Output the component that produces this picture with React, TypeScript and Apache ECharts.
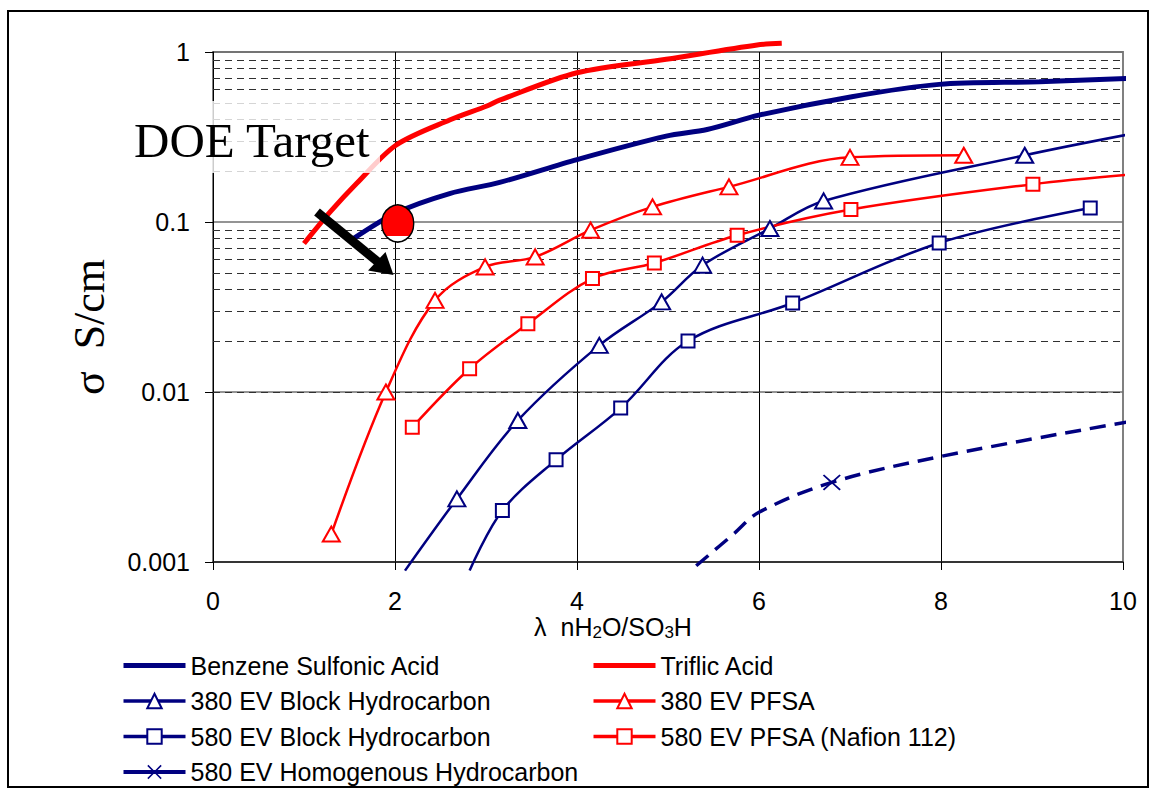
import React, { useEffect, useRef } from 'react';
import * as echarts from 'echarts';

const SANS = '"Liberation Sans", Arial, Helvetica, sans-serif';
const SERIF = '"Liberation Serif", "Times New Roman", Times, serif';
const NAVY = '#000080';
const RED = '#ff0000';

const seriesNames = [
  'Benzene Sulfonic Acid',
  'Triflic Acid',
  '380 EV Block Hydrocarbon',
  '380 EV PFSA',
  '580 EV Block Hydrocarbon',
  '580 EV PFSA (Nafion 112)',
  '580 EV Homogenous Hydrocarbon',
];

const xTickStep = 2;
const yTickLabels = ['0.001', '0.01', '0.1', '1'];
const minorGridValues = [
  0.002, 0.003, 0.004, 0.005, 0.006, 0.007, 0.008, 0.009,
  0.02, 0.03, 0.04, 0.05, 0.06, 0.07, 0.08, 0.09,
  0.2, 0.3, 0.4, 0.5, 0.6, 0.7, 0.8, 0.9,
];

// Benzene Sulfonic Acid
const benzeneX = [1.53, 2.01, 2.6, 3.15, 4.0, 4.98, 5.43, 6.0, 7.02, 7.98, 9.08, 10.1];
const benzeneY = [0.079, 0.113, 0.147, 0.171, 0.233, 0.32, 0.35, 0.425, 0.546, 0.645, 0.668, 0.7];

// Triflic Acid
const triflicX = [1.0, 1.29, 1.58, 2.01, 2.6, 3.01, 3.15, 4.0, 4.98, 5.98, 6.25];
const triflicY = [0.0747, 0.115, 0.169, 0.283, 0.398, 0.481, 0.521, 0.755, 0.906, 1.1, 1.125];

// 380 EV Block Hydrocarbon
const block380X = [2.11, 2.68, 3.35, 4.245, 4.93, 5.38, 6.12, 6.71, 8.92, 10.12];
const block380Y = [0.00089, 0.00235, 0.0068, 0.0188, 0.0339, 0.0557, 0.0916, 0.133, 0.247, 0.332];
const block380Marked = [false, true, true, true, true, true, true, true, true, false];

// 380 EV PFSA
const pfsa380X = [1.3, 1.9, 2.44, 2.99, 3.54, 4.15, 4.83, 5.67, 7.0, 8.25];
const pfsa380Y = [0.00146, 0.01, 0.0346, 0.0544, 0.0623, 0.0895, 0.1227, 0.161, 0.24, 0.247];
const pfsa380Marked = [true, true, true, true, true, true, true, true, true, true];

// 580 EV Block Hydrocarbon
const block580X = [2.82, 3.18, 3.77, 4.48, 5.22, 6.37, 7.98, 9.64];
const block580Y = [0.00089, 0.00201, 0.00399, 0.00804, 0.01995, 0.0334, 0.0753, 0.121];
const block580Marked = [false, true, true, true, true, true, true, true];

// 580 EV PFSA (Nafion 112)
const pfsa580X = [2.19, 2.82, 3.46, 4.17, 4.85, 5.76, 7.01, 9.01, 10.12];
const pfsa580Y = [0.0062, 0.0137, 0.0252, 0.0465, 0.0574, 0.0836, 0.1185, 0.167, 0.191];
const pfsa580Marked = [true, true, true, true, true, true, true, true, false];

// 580 EV Homogenous Hydrocarbon
const homoX = [5.31, 5.72, 6.0, 6.8, 8.0, 10.1];
const homoY = [0.00095, 0.00146, 0.00196, 0.00294, 0.00418, 0.00674];
const homoMarked = [false, false, false, true, false, false];

// DOE target point
const doeTarget = [2.03, 0.098];

const X_SYMBOL =
  'path://M0,1.5L1.5,0L10,8.5L18.5,0L20,1.5L11.5,10L20,18.5L18.5,20L10,11.5L1.5,20L0,18.5L8.5,10Z';

function pts(xs: number[], ys: number[]) {
  return xs.map((x, i) => [x, ys[i]]);
}

function markedPts(xs: number[], ys: number[], marked: boolean[]) {
  return xs.map((x, i) =>
    marked[i] ? [x, ys[i]] : { value: [x, ys[i]], symbol: 'none' }
  );
}

export default function App() {
  const ref = useRef<HTMLDivElement>(null);

  useEffect(() => {
    document.body.style.margin = '0';
    if (!ref.current) return;
    const chart = echarts.init(ref.current, undefined, { renderer: 'svg' });

    const legendText = {
      fontSize: 25,
      fontFamily: SANS,
      color: '#000',
      lineHeight: 24,
    };

    const option: any = {
      animation: false,
      backgroundColor: '#fff',
      grid: {
        left: 213,
        top: 52,
        width: 910,
        height: 510,
        show: true,
        borderColor: '#808080',
        borderWidth: 2,
        backgroundColor: 'transparent',
      },
      xAxis: {
        type: 'value',
        min: 0,
        max: 10,
        interval: xTickStep,
        axisLine: { show: true, onZero: false, lineStyle: { color: '#202020', width: 1.5 } },
        axisTick: { show: true, inside: false, length: 8, lineStyle: { color: '#000', width: 1 } },
        axisLabel: { fontSize: 25, fontFamily: SANS, color: '#000', margin: 26 },
        splitLine: {
          show: true,
          lineStyle: { color: ['#000', '#000', '#000', '#000', '#000', '#808080'], width: 1 },
        },
      },
      yAxis: {
        type: 'log',
        logBase: 10,
        min: 0.001,
        max: 1,
        axisLine: { show: true, onZero: false, lineStyle: { color: '#000', width: 1 } },
        axisTick: { show: true, inside: false, length: 8, lineStyle: { color: '#000', width: 1 } },
        axisLabel: {
          fontSize: 25,
          fontFamily: SANS,
          color: '#000',
          margin: 23,
          formatter: (v: number) => {
            const idx = Math.round(Math.log10(v)) + 3;
            return yTickLabels[idx] ?? String(v);
          },
        },
        splitLine: { show: true, lineStyle: { color: '#707070', width: 1.5 } },
      },
      legend: [
        {
          orient: 'vertical',
          left: 121,
          top: 653,
          padding: 0,
          itemWidth: 62,
          itemHeight: 18,
          itemGap: 10.5,
          selectedMode: false,
          textStyle: legendText,
          data: [
            { name: seriesNames[0], itemStyle: { opacity: 0 }, lineStyle: { width: 5 } },
            { name: seriesNames[2], lineStyle: { width: 3.5 } },
            { name: seriesNames[4], lineStyle: { width: 3.5 } },
            { name: seriesNames[6], lineStyle: { width: 4, type: 'solid' } },
          ],
        },
        {
          orient: 'vertical',
          left: 591,
          top: 653,
          padding: 0,
          itemWidth: 62,
          itemHeight: 18,
          itemGap: 10.5,
          selectedMode: false,
          textStyle: legendText,
          data: [
            { name: seriesNames[1], itemStyle: { opacity: 0 }, lineStyle: { width: 5 } },
            { name: seriesNames[3], lineStyle: { width: 3.5 } },
            { name: seriesNames[5], lineStyle: { width: 3.5 } },
          ],
        },
      ],
      series: [
        {
          name: '__minorGrid',
          type: 'line',
          data: [],
          silent: true,
          markLine: {
            silent: true,
            z: 1,
            symbol: ['none', 'none'],
            label: { show: false },
            emphasis: { disabled: true },
            lineStyle: { color: '#303030', width: 1, type: [7, 5] },
            data: minorGridValues.map((v) => ({ yAxis: v })),
          },
        },
        {
          name: seriesNames[0],
          type: 'line',
          data: pts(benzeneX, benzeneY),
          symbol: 'none',
          smooth: 0.3,
          clip: false,
          z: 3,
          itemStyle: { color: NAVY },
          lineStyle: { color: NAVY, width: 5 },
        },
        {
          name: seriesNames[1],
          type: 'line',
          data: pts(triflicX, triflicY),
          symbol: 'none',
          smooth: 0.3,
          clip: false,
          z: 3,
          itemStyle: { color: RED },
          lineStyle: { color: RED, width: 5 },
        },
        {
          name: seriesNames[2],
          type: 'line',
          data: markedPts(block380X, block380Y, block380Marked),
          symbol: 'emptyTriangle',
          symbolSize: [17, 15],
          showAllSymbol: true,
          smooth: 0.35,
          clip: false,
          z: 4,
          itemStyle: { color: NAVY, borderWidth: 1.5 },
          lineStyle: { color: NAVY, width: 2.5 },
        },
        {
          name: seriesNames[3],
          type: 'line',
          data: markedPts(pfsa380X, pfsa380Y, pfsa380Marked),
          symbol: 'emptyTriangle',
          symbolSize: [17, 15],
          showAllSymbol: true,
          smooth: 0.35,
          clip: false,
          z: 4,
          itemStyle: { color: RED, borderWidth: 1.5 },
          lineStyle: { color: RED, width: 2.5 },
        },
        {
          name: seriesNames[4],
          type: 'line',
          data: markedPts(block580X, block580Y, block580Marked),
          symbol: 'emptyRect',
          symbolSize: 13,
          showAllSymbol: true,
          smooth: 0.35,
          clip: false,
          z: 4,
          itemStyle: { color: NAVY, borderWidth: 1.5 },
          lineStyle: { color: NAVY, width: 2.5 },
        },
        {
          name: seriesNames[5],
          type: 'line',
          data: markedPts(pfsa580X, pfsa580Y, pfsa580Marked),
          symbol: 'emptyRect',
          symbolSize: 13,
          showAllSymbol: true,
          smooth: 0.35,
          clip: false,
          z: 4,
          itemStyle: { color: RED, borderWidth: 1.5 },
          lineStyle: { color: RED, width: 2.5 },
        },
        {
          name: seriesNames[6],
          type: 'line',
          data: markedPts(homoX, homoY, homoMarked),
          symbol: X_SYMBOL,
          symbolSize: [18, 16],
          showAllSymbol: true,
          smooth: 0.35,
          clip: false,
          z: 4,
          itemStyle: { color: NAVY },
          lineStyle: { color: NAVY, width: 3.5, type: [16, 9] },
        },
        {
          name: 'DOE Target',
          type: 'scatter',
          data: [doeTarget],
          symbol: 'circle',
          symbolSize: [32, 37],
          clip: false,
          z: 6,
          silent: true,
          itemStyle: {
            opacity: 1,
            color: new echarts.graphic.LinearGradient(0, 0, 0, 1, [
              { offset: 0, color: '#ff0000' },
              { offset: 0.84, color: '#ff0000' },
              { offset: 0.84, color: '#ffffff' },
              { offset: 1, color: '#ffffff' },
            ]),
            borderColor: '#000',
            borderWidth: 1.5,
          },
        },
      ],
      graphic: [
        {
          type: 'rect',
          z: 100,
          silent: true,
          shape: { x: 8, y: 11, width: 1140, height: 776 },
          style: { fill: 'none', stroke: '#000', lineWidth: 2 },
        },
        {
          type: 'rect',
          z: 100,
          silent: true,
          shape: { x: 128, y: 101, width: 252, height: 72 },
          style: { fill: 'rgba(255,255,255,0.8)' },
        },
        {
          type: 'text',
          z: 101,
          silent: true,
          x: 134,
          y: 140,
          style: {
            text: 'DOE Target',
            fontSize: 49,
            fontFamily: SERIF,
            fill: '#000',
            align: 'left',
            verticalAlign: 'middle',
          },
        },
        {
          type: 'line',
          z: 101,
          silent: true,
          shape: { x1: 317, y1: 212, x2: 378, y2: 262 },
          style: { stroke: '#000', lineWidth: 9 },
        },
        {
          type: 'polygon',
          z: 101,
          silent: true,
          shape: { points: [[393.5, 275], [368, 270.5], [385.5, 252]] },
          style: { fill: '#000' },
        },
        {
          type: 'text',
          z: 101,
          silent: true,
          x: 89,
          y: 327,
          rotation: Math.PI / 2,
          style: {
            text: '\u03c3  S/cm',
            fontSize: 44,
            fontFamily: SERIF,
            fill: '#000',
            align: 'center',
            verticalAlign: 'middle',
          },
        },
        {
          type: 'text',
          z: 101,
          silent: true,
          x: 613,
          y: 627,
          style: {
            text: '{n|\u03bb  nH}{s|2}{n|O/SO}{s|3}{n|H}',
            align: 'center',
            verticalAlign: 'middle',
            fill: '#000',
            rich: {
              n: { fontSize: 25, fontFamily: SANS, fill: '#000' },
              s: { fontSize: 17, fontFamily: SANS, fill: '#000', padding: [10, 0, 0, 0] },
            },
          },
        },
      ],
    };

    chart.setOption(option);
    return () => {
      chart.dispose();
    };
  }, []);

  return <div ref={ref} style={{ width: 1150, height: 791 }} />;
}
